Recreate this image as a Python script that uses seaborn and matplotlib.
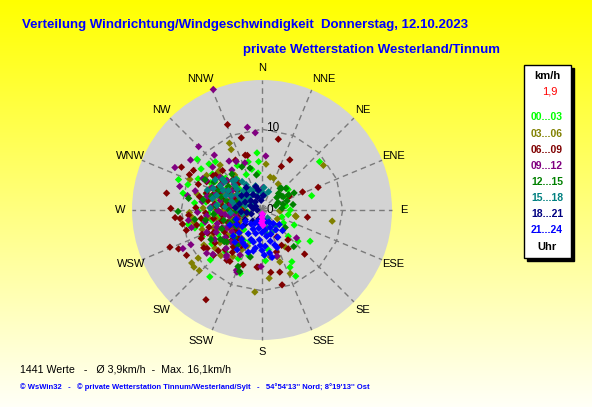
import numpy as np
import pandas as pd
import matplotlib
matplotlib.use("Agg")
import matplotlib.pyplot as plt
import seaborn as sns
from matplotlib.patches import Circle, Rectangle

# Windrichtung (Grad) / Geschwindigkeit (km/h), je 3-Stunden-Block, aus dem Bild geschaetzt
h00_03 = [(50, 9.3), (74, 6.4), (123, 7.1), (150, 7.4), (153, 9.2), (199, 8.3), (218, 10.5), (308, 10.2),
          (355, 7.1), (49, 4.1), (90, 3.5), (121, 3.1), (356, 6.0), (354, 4.6), (52, 4.1), (92, 2.2),
          (109, 2.6), (154, 7.9), (131, 5.9), (171, 5.0), (176, 6.3), (311, 8.7), (290, 11.0), (344, 6.2),
          (304, 9.1), (282, 10.0), (255, 8.6), (206, 6.7),
          (251, 4.3), (261, 5.5), (271, 4.7), (281, 6.0), (291, 5.2), (301, 6.8), (311, 6.0), (321, 5.0),
          (331, 6.3), (241, 6.2), (231, 5.0), (221, 6.9), (211, 4.4), (256, 7.7), (266, 6.6), (276, 8.4),
          (286, 7.2), (296, 8.8), (306, 7.6), (246, 8.1), (236, 7.5), (226, 8.9), (264, 3.0), (274, 3.6),
          (284, 2.8), (294, 4.0), (304, 3.4), (249, 3.7), (239, 3.9), (229, 4.7), (316, 8.3), (336, 4.8),
          (346, 5.2), (259, 9.3), (279, 5.3), (289, 9.7), (269, 7.9), (216, 5.7), (196, 5.9), (201, 4.1),
          (62, 3.4), (80, 3.0), (100, 3.3), (115, 4.4), (135, 4.6),
          (253, 2.2), (263, 1.8), (273, 2.4), (283, 4.5), (293, 6.4), (303, 5.1), (313, 3.9), (243, 5.1),
          (233, 6.0), (223, 3.3), (258, 6.3), (278, 7.0), (298, 7.2), (268, 5.8), (288, 3.3)]
h03_06 = [(334, 9.2), (333, 8.4), (54, 9.4), (99, 8.8), (100, 4.2), (156, 8.6), (174, 8.5), (185, 10.2),
          (226, 10.8), (233, 10.9), (230, 11.0), (317, 7.6), (5, 5.7), (20, 4.2), (162, 6.1), (293, 9.7),
          (309, 6.6), (233, 9.9), (231, 7.5), (268, 9.0), (260, 8.6), (14, 4.2), (32, 3.8), (92, 2.3),
          (93, 2.2), (120, 2.2), (101, 4.3), (161, 6.8), (170, 5.9), (148, 5.4),
          (257, 4.0), (267, 5.1), (277, 4.4), (287, 5.6), (297, 4.0), (307, 6.3), (317, 5.0), (247, 5.9),
          (237, 4.5), (227, 5.8), (217, 4.3), (207, 5.5), (262, 6.7), (272, 7.3), (282, 6.2), (292, 7.0),
          (302, 8.1), (252, 7.8), (242, 7.0), (232, 6.6), (222, 7.6), (259, 2.6), (269, 3.3), (279, 2.5),
          (289, 3.4), (299, 2.8), (244, 2.9), (234, 3.4), (254, 5.0), (284, 8.3), (264, 8.7), (274, 6.0),
          (294, 5.3), (312, 7.2), (322, 5.5), (212, 6.8), (202, 4.8), (239, 8.4), (249, 3.8), (309, 4.3),
          (255, 1.9), (265, 2.1), (275, 3.0), (285, 4.2), (295, 6.1), (305, 5.0), (245, 4.4), (235, 5.3),
          (225, 3.9), (260, 5.8), (280, 6.8), (300, 3.5), (270, 4.6), (250, 6.4)]
h06_09 = [(338, 11.4), (13, 9.0), (344, 9.3), (29, 7.1), (24, 5.9), (68, 7.5), (66, 5.5), (99, 5.7),
          (136, 7.6), (165, 9.6), (164, 8.0), (172, 7.8), (185, 7.1), (212, 13.1), (239, 10.9), (248, 12.3),
          (245, 11.4), (271, 11.3), (260, 10.0), (280, 12.0), (298, 11.3), (332, 7.0), (345, 7.0), (63, 3.8),
          (215, 7.6), (343, 7.1), (300, 9.8), (296, 10.0), (307, 7.2), (265, 10.8), (264, 10.2), (255, 9.7),
          (245, 8.3), (235, 8.3), (227, 8.2), (212, 7.5), (199, 7.2), (184, 7.1), (161, 5.5), (146, 5.8),
          (151, 5.0), (151, 3.8), (139, 4.9),
          (250, 4.5), (255, 5.2), (260, 6.1), (265, 3.8), (270, 5.5), (275, 4.2), (280, 6.8), (285, 5.0),
          (290, 3.6), (295, 6.2), (300, 4.8), (305, 7.4), (310, 5.6), (315, 6.9), (320, 4.4), (245, 6.6),
          (240, 5.4), (235, 7.1), (230, 6.0), (225, 5.3), (220, 4.6), (215, 6.4), (210, 5.1), (262, 7.6),
          (272, 8.2), (282, 7.9), (292, 8.5), (248, 8.0), (258, 2.9), (268, 2.4), (278, 3.1), (288, 2.7),
          (298, 3.3), (308, 3.9), (242, 3.5), (232, 4.1), (252, 6.9), (287, 7.2), (302, 6.0), (317, 5.2),
          (227, 7.4), (237, 8.6), (266, 9.1), (276, 4.9), (296, 4.5),
          (253, 3.3), (263, 5.0), (273, 6.3), (283, 4.3), (293, 5.6), (303, 3.0), (243, 4.7), (233, 5.6),
          (223, 6.7), (257, 8.3), (277, 5.9), (297, 7.7), (267, 7.0), (287, 6.4), (247, 7.3), (218, 5.8)]
h09_12 = [(338, 16.1), (350, 10.4), (355, 9.6), (315, 11.1), (296, 12.0), (286, 10.6), (305, 10.8),
          (319, 9.0), (4, 6.7), (340, 6.2), (203, 8.1), (298, 8.3), (332, 6.8), (310, 5.7), (244, 10.9),
          (244, 9.8), (217, 7.3), (202, 8.3), (232, 8.7), (262, 9.2), (129, 5.5), (181, 7.0), (162, 6.0),
          (3, 2.8),
          (253, 5.8), (263, 4.6), (273, 6.4), (283, 5.3), (293, 4.1), (303, 5.9), (313, 4.7), (323, 6.2),
          (243, 4.9), (233, 5.7), (223, 6.5), (213, 5.0), (258, 7.2), (268, 8.0), (278, 7.5), (288, 6.1),
          (298, 7.8), (308, 6.6), (248, 7.4), (238, 6.9), (228, 8.2), (261, 3.4), (271, 2.8), (281, 3.9),
          (291, 3.0), (301, 3.6), (251, 3.2), (241, 4.0), (276, 5.8), (286, 8.6), (256, 9.0), (246, 5.4),
          (218, 7.1), (311, 8.1), (326, 7.3), (266, 5.1), (296, 5.5), (236, 3.6), (206, 6.2), (281, 9.4),
          (254, 2.4), (264, 6.9), (274, 4.0), (284, 7.0), (294, 6.8), (304, 4.4), (244, 6.3), (234, 4.6),
          (224, 5.5), (259, 4.1), (279, 3.0), (299, 5.0), (269, 5.5), (249, 6.0)]
h12_15 = [(269, 10.4), (203, 7.6), (200, 8.1), (194, 6.0), (139, 6.0), (127, 3.6), (42, 3.6), (40, 3.5),
          (58, 3.1), (279, 9.2), (344, 5.4), (351, 4.4), (50, 2.4), (55, 3.0), (60, 3.8), (65, 2.2),
          (70, 3.3), (75, 2.7), (80, 3.9), (85, 2.5), (48, 4.0), (62, 4.5), (72, 1.8), (45, 2.9),
          (255, 4.9), (265, 6.0), (275, 5.7), (285, 4.6), (295, 5.9), (305, 5.1), (245, 5.5), (235, 6.3),
          (225, 4.8), (260, 7.1), (280, 7.4), (300, 6.9), (250, 3.6), (270, 4.1), (290, 3.2), (310, 4.2),
          (240, 7.3), (230, 6.1), (320, 5.8), (262, 8.4), (278, 2.9), (298, 8.0), (215, 5.3), (335, 5.9),
          (285, 6.5), (258, 2.5), (268, 3.2), (288, 5.3), (308, 6.1), (248, 4.3), (238, 3.8), (228, 5.9)]
h15_18 = [(300, 1.2), (305, 1.8), (310, 2.4), (298, 3.0), (302, 3.6), (295, 4.2), (292, 4.8), (297, 5.4),
          (307, 5.8), (312, 4.5), (315, 3.3), (318, 2.2), (322, 2.9), (328, 3.7), (335, 2.6), (340, 1.9),
          (345, 3.1), (350, 2.4), (355, 1.6), (0, 2.2), (5, 2.8), (10, 1.9), (20, 2.4), (285, 2.1),
          (280, 3.4), (275, 4.6), (270, 2.8), (265, 3.9), (260, 2.5), (288, 5.9), (283, 6.3), (290, 7.2),
          (294, 6.6), (303, 6.9), (308, 6.2), (276, 5.6), (272, 6.4), (286, 3.9), (290, 2.6), (300, 4.8),
          (320, 5.0), (325, 4.3), (330, 3.0), (160, 1.5), (165, 2.3), (150, 1.8), (140, 2.6), (170, 2.9),
          (155, 3.0), (145, 1.2), (305, 3.0), (310, 4.0), (315, 5.1), (300, 6.0), (295, 2.5)]
h18_21 = [(270, 0.6), (280, 1.1), (290, 1.5), (300, 0.9), (310, 1.8), (320, 1.3), (330, 2.2), (340, 1.7),
          (350, 2.5), (260, 1.9), (250, 1.4), (265, 2.6), (285, 2.9), (295, 2.3), (305, 3.1), (315, 2.7),
          (325, 3.4), (345, 3.0), (355, 1.2), (5, 1.8), (240, 2.4), (275, 3.3), (200, 1.2), (220, 1.8),
          (230, 2.8)]
h21_24 = [(180, 0.6), (185, 1.2), (175, 1.8), (190, 2.3), (180, 2.8), (170, 3.3), (185, 3.7), (195, 4.1),
          (175, 4.5), (180, 5.0), (165, 4.0), (160, 3.2), (155, 2.4), (150, 1.7), (200, 1.5), (205, 2.6),
          (210, 3.4), (215, 4.4), (220, 5.2), (212, 5.8), (205, 4.9), (198, 5.5), (190, 4.8), (170, 5.4),
          (177, 5.6), (160, 4.6), (150, 3.9), (145, 3.0), (140, 2.2), (195, 3.0), (188, 1.8), (200, 3.9),
          (225, 4.0), (230, 3.2), (235, 2.5), (240, 3.6), (218, 2.2), (208, 1.9), (172, 2.5), (165, 1.5),
          (183, 4.4), (192, 5.2), (158, 5.0), (168, 6.0), (210, 4.7), (228, 4.8), (245, 4.4), (250, 3.4),
          (135, 3.6), (130, 2.8)]
latest = [(175, 0.5), (180, 0.9), (178, 1.3), (182, 1.6), (176, 1.9)]

bins = ["00...03", "03...06", "06...09", "09...12", "12...15", "15...18", "18...21", "21...24"]
bin_colors = ["#00ff00", "#808000", "#800000", "#800080", "#008000", "#008080", "#000080", "#0000ff"]
groups = [h00_03, h03_06, h06_09, h09_12, h12_15, h15_18, h18_21, h21_24]

directions = ["N", "NNE", "NE", "ENE", "E", "ESE", "SE", "SSE",
              "S", "SSW", "SW", "WSW", "W", "WNW", "NW", "NNW"]
n_werte = 1441
mittel = "3,9"
vmax = 16.1
aktuell = "1,9"

rows = []
for name, pts in zip(bins + ["jetzt"], groups + [latest]):
    for d, v in pts:
        rows.append((name, d, v))
df = pd.DataFrame(rows, columns=["bin", "dir", "spd"])
df["x"] = df["spd"] * np.sin(np.radians(df["dir"]))
df["y"] = df["spd"] * np.cos(np.radians(df["dir"]))

pal = dict(zip(bins, bin_colors))
pal["jetzt"] = "#ff00ff"

plt.rcParams["font.family"] = ["Liberation Sans", "DejaVu Sans"]

W, H = 592, 407
fig = plt.figure(figsize=(W / 100, H / 100), dpi=100)

# Hintergrund gelb -> hell
bg = fig.add_axes([0, 0, 1, 1])
grad = np.ones((H, 1, 3))
grad[:, 0, 2] = np.linspace(0.0, 0.97, H)
bg.imshow(grad, aspect="auto", extent=[0, 1, 0, 1])
bg.axis("off")

# Windrose: Mitte bei (262, 210) px, 16,1 km/h = 130 px
cx, cy = 262, 210
px_per = 130 / vmax
half = 160
R = half / px_per
ax = fig.add_axes([(cx - half) / W, (H - cy - half) / H, 2 * half / W, 2 * half / H])
ax.patch.set_alpha(0)

ax.add_patch(Circle((0, 0), vmax, color="#d3d3d3", zorder=0, lw=0))
ang = np.radians(np.arange(16) * 22.5)
for a in ang:
    ax.plot([0, vmax * np.sin(a)], [0, vmax * np.cos(a)], color="#7a7a7a", lw=1,
            dashes=(4, 3), zorder=1)
ring = np.append(ang, ang[0])
ax.plot(10 * np.sin(ring), 10 * np.cos(ring), color="#7a7a7a", lw=1, dashes=(4, 3), zorder=1)

# NNE/NNW/SSE/SSW stehen etwas weiter aussen
nudge = {"NNE": 5, "SSE": 5, "NNW": -5, "SSW": -5}
for lab, a in zip(directions, ang):
    ax.annotate(lab, (17.6 * np.sin(a), 17.6 * np.cos(a)), xytext=(nudge.get(lab, 0), 0),
                textcoords="offset points", ha="center", va="center", fontsize=8, color="black")
ax.text(0.5, 10.2, "10", ha="left", va="center", fontsize=8.5, zorder=5)
ax.text(0.5, 0, "0", ha="left", va="center", fontsize=8.5, zorder=5)

sns.scatterplot(data=df, x="x", y="y", hue="bin", palette=pal, hue_order=bins + ["jetzt"],
                marker="D", s=14, linewidth=0, legend=False, ax=ax, zorder=3)
ax.set_xlim(-R, R)
ax.set_ylim(-R, R)
ax.axis("off")


def ftext(x, y, s, **kw):
    fig.text(x / W, 1 - y / H, s, **kw)


ftext(22, 25, "Verteilung Windrichtung/Windgeschwindigkeit  Donnerstag, 12.10.2023",
      fontsize=9.5, fontweight="bold", color="#0000ff", va="center")
ftext(243, 50, "private Wetterstation Westerland/Tinnum",
      fontsize=9.5, fontweight="bold", color="#0000ff", va="center")
ftext(20, 370, f"{n_werte} Werte   -   Ø {mittel}km/h  -  Max. {str(vmax).replace('.', ',')}km/h",
      fontsize=7.7, color="black", va="center")
ftext(20, 387, "© WsWin32   -   © private Wetterstation Tinnum/Westerland/Sylt   -   "
      "54°54'13'' Nord; 8°19'13'' Ost",
      fontsize=5.5, fontweight="bold", color="#0000ff", va="center")

# Legende mit Schatten
bx0, by0, bx1, by1 = 524, 65, 571, 258
fig.patches.append(Rectangle(((bx0 + 3) / W, 1 - (by1 + 3) / H), (bx1 - bx0) / W, (by1 - by0) / H,
                             transform=fig.transFigure, color="black", zorder=5))
fig.patches.append(Rectangle((bx0 / W, 1 - by1 / H), (bx1 - bx0) / W, (by1 - by0) / H,
                             transform=fig.transFigure, facecolor="white", edgecolor="black",
                             lw=1, zorder=6))
ftext(547, 76, "km/h", fontsize=8, fontweight="bold", ha="center", va="center", zorder=7)
ftext(550, 91, aktuell, fontsize=8, color="red", ha="center", va="center", zorder=7)
for i, (lab, col) in enumerate(zip(bins, bin_colors)):
    ftext(531, 117.5 + i * 16.1, lab, fontsize=7.5, fontweight="bold", color=col,
          ha="left", va="center", zorder=7)
ftext(547, 247, "Uhr", fontsize=8, fontweight="bold", ha="center", va="center", zorder=7)

fig.savefig("out.png", dpi=100)
